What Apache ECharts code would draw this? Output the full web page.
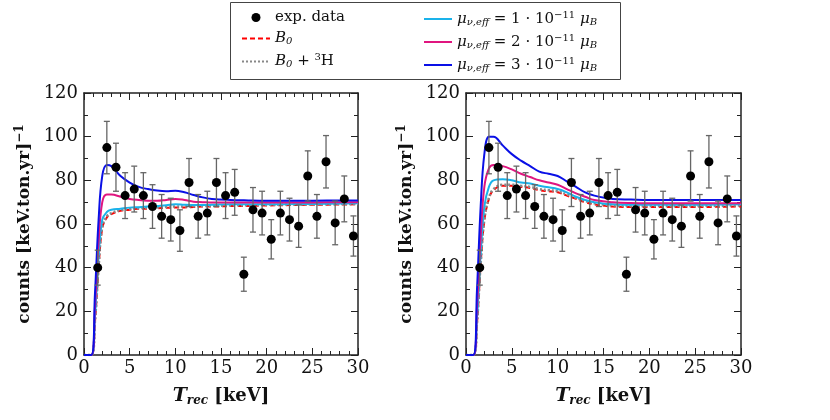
<!DOCTYPE html>
<html>
<head>
<meta charset="utf-8">
<script src="https://cdn.jsdelivr.net/npm/echarts@6/dist/echarts.min.js"></script>
<style>
  body, html { margin: 0; height: 100%; background: #fff; }
  #main { width: 830px; height: 420px; }
</style>
</head>
<body>
<div id="main"></div>
<script>
// measured points (bin centres) with error bars
var binX = [1.5,2.5,3.5,4.5,5.5,6.5,7.5,8.5,9.5,10.5,11.5,12.5,13.5,14.5,15.5,16.5,17.5,18.5,19.5,20.5,21.5,22.5,23.5,24.5,25.5,26.5,27.5,28.5,29.5];
var counts = [40,95,86,73,76,73,68,63.5,62,57,79,63.5,65,79,73,74.5,37,66.5,65,53,65,62,59,82,63.5,88.5,60.5,71.5,54.5];
var errs = [8,12,11,10.5,10.5,10.5,10,10,9.8,9.5,11,10,10,11,10.5,10.5,7.8,10.2,10,9,10,9.8,9.7,11.5,10,12,10,10.5,9.2];

// model curves, sampled at curveX
var curveX = [0,0.8,1.2,1.6,2,2.5,3,4,5,6,7,8,9,10,11,12,13,14,16,18,20,25,30];
var leftB0   = [0,0,15,40,58,63,64.5,66,66.5,67,67,67.2,67.4,67.6,67.6,67.8,68,68,68.2,68.3,68.5,68.8,69];
var leftB0H  = [0,0,15.5,40.5,58.5,63.5,65,66.4,66.9,67.3,67.4,67.6,67.8,68,68,68.1,68.3,68.3,68.5,68.6,68.8,69,69.2];
var leftMu1  = [0,0,18,45,62,65.5,66.5,67,67.5,67.7,68,68.3,68.6,69,68.8,68.7,68.7,68.8,69,69,69,69.2,69.5];
var leftMu2  = [0,0,22,52,70,73.5,73.5,72.5,71.5,71,70.7,70.6,71,71.5,71,70.2,70,69.8,69.8,69.8,69.8,69.9,70];
var leftMu3  = [0,0,28,62,82,87,86.5,82,79,77,76,75.3,75,75.2,74.5,73.3,72.2,71.5,71,70.8,70.7,70.7,70.8];
var rightB0  = [0,0,14.5,41.5,61.5,71.5,75.5,77.5,77.5,77,76.5,75.5,75,74.5,73,71.5,70,69,68,67.8,67.8,67.8,68];
var rightB0H = [0,0,15,42,62,72,76,78,78,77.5,77,76,75.5,75,73.5,72,70.5,69.5,68.5,68.3,68.3,68.3,68.5];
var rightMu1 = [0,0,17,46,68,77,80,80.5,80,79,78.5,77.5,76.8,76,74.5,72.5,71,70,69,68.8,68.8,68.8,69];
var rightMu2 = [0,0,22,54,77,85.5,87,86.5,85,83,81.5,80,79,78,76,74,72.5,71,70,69.6,69.5,69.5,69.5];
var rightMu3 = [0,0,30,68,92,100,100,96,92,89,86.5,84,83,82,79.5,77,74.5,73,71.5,71.2,71,71,71];

var xTicks = [0,5,10,15,20,25,30];
var yTicks = [0,20,40,60,80,100,120];

var FONT = '"DejaVu Serif", "Liberation Serif", serif';
var colors = {B0: '#ff0000', B0H: '#888888', mu1: '#1ab2ea', mu2: '#e0157f', mu3: '#0a10e6'};

function pairs(ys) { return curveX.map(function (x, i) { return [x, ys[i]]; }); }

function lineSeries(name, ys, gi) {
  var ls = {color: colors[name], width: 2};
  if (name == 'B0') ls.type = [5, 3];
  if (name == 'B0H') { ls.type = [2, 2]; ls.width = 2.5; }
  return {
    name: name, type: 'line', xAxisIndex: gi * 2, yAxisIndex: gi * 2,
    data: pairs(ys), smooth: 0.4, showSymbol: false, symbol: 'none',
    lineStyle: ls, itemStyle: {color: colors[name]}, z: 3
  };
}

function pointSeries(gi) {
  var pts = binX.map(function (x, i) { return [x, counts[i], errs[i]]; });
  return [{
    type: 'custom', xAxisIndex: gi * 2, yAxisIndex: gi * 2, z: 4,
    data: pts,
    renderItem: function (params, api) {
      var x = api.value(0), y = api.value(1), e = api.value(2);
      var hi = api.coord([x, y + e]), lo = api.coord([x, y - e]);
      var st = {stroke: '#666', lineWidth: 1.3};
      return {type: 'group', children: [
        {type: 'line', shape: {x1: hi[0], y1: hi[1], x2: lo[0], y2: lo[1]}, style: st},
        {type: 'line', shape: {x1: hi[0] - 3, y1: hi[1], x2: hi[0] + 3, y2: hi[1]}, style: st},
        {type: 'line', shape: {x1: lo[0] - 3, y1: lo[1], x2: lo[0] + 3, y2: lo[1]}, style: st}
      ]};
    }
  }, {
    name: 'exp. data', type: 'scatter', xAxisIndex: gi * 2, yAxisIndex: gi * 2, z: 5,
    data: pts.map(function (p) { return [p[0], p[1]]; }),
    symbolSize: 9, itemStyle: {color: '#000', opacity: 1}
  }];
}

var tickCommon = {inside: true, length: 7, lineStyle: {color: '#222'}};
var minorCommon = {show: true, length: 4, lineStyle: {color: '#222'}};
var lineCommon = {show: true, onZero: false, lineStyle: {color: '#222', width: 1.5}};

function xAxes(gi) {
  return [{
    type: 'value', gridIndex: gi, min: 0, max: 30, interval: 5,
    axisLine: lineCommon,
    axisTick: tickCommon, minorTick: Object.assign({splitNumber: 5}, minorCommon),
    splitLine: {show: false},
    axisLabel: {fontFamily: FONT, fontSize: 18, color: '#111', margin: 4,
      formatter: function (v) { return xTicks.indexOf(v) >= 0 ? v : ''; }},
    name: '{b|T}{s|rec}{n| [keV]}', nameLocation: 'middle', nameGap: 30,
    nameTextStyle: {rich: {
      b: {fontFamily: FONT, fontSize: 19, fontWeight: 'bold', fontStyle: 'italic', color: '#111'},
      s: {fontFamily: FONT, fontSize: 12, fontWeight: 'bold', fontStyle: 'italic', color: '#111', padding: [10, 0, 0, 0]},
      n: {fontFamily: FONT, fontSize: 18, fontWeight: 'bold', color: '#111'}
    }}
  }, {
    type: 'value', gridIndex: gi, min: 0, max: 30, interval: 5, position: 'top',
    axisLine: lineCommon, axisLabel: {show: false},
    axisTick: tickCommon, minorTick: Object.assign({splitNumber: 5}, minorCommon),
    splitLine: {show: false}
  }];
}

function yAxes(gi) {
  return [{
    type: 'value', gridIndex: gi, min: 0, max: 120, interval: 20, position: 'left',
    axisLine: lineCommon,
    axisTick: tickCommon, minorTick: Object.assign({splitNumber: 2}, minorCommon),
    splitLine: {show: false},
    axisLabel: {fontFamily: FONT, fontSize: 18, color: '#111', margin: 6,
      formatter: function (v) { return yTicks.indexOf(v) >= 0 ? v : ''; }},
    name: '{n|counts [keV.ton.yr]}{s|−1}', nameLocation: 'middle', nameGap: 48,
    nameTextStyle: {rich: {
      n: {fontFamily: FONT, fontSize: 17, fontWeight: 'bold', color: '#111'},
      s: {fontFamily: FONT, fontSize: 12, fontWeight: 'bold', color: '#111', padding: [0, 0, 10, 0]}
    }}
  }, {
    type: 'value', gridIndex: gi, min: 0, max: 120, interval: 20, position: 'right',
    axisLine: lineCommon, axisLabel: {show: false},
    axisTick: tickCommon, minorTick: Object.assign({splitNumber: 2}, minorCommon),
    splitLine: {show: false}
  }];
}

var legendLabels = {
  'exp. data': '{t|exp. data}',
  'B0': '{i|B}{s|0}',
  'B0H': '{i|B}{s|0}{t| + }{s2|3}{t|H}',
  'mu1': '{i|μ}{s|ν,eff}{t| = 1 · 10}{s2|−11}{t| }{i|μ}{s|B}',
  'mu2': '{i|μ}{s|ν,eff}{t| = 2 · 10}{s2|−11}{t| }{i|μ}{s|B}',
  'mu3': '{i|μ}{s|ν,eff}{t| = 3 · 10}{s2|−11}{t| }{i|μ}{s|B}'
};
var legendRich = {
  t: {fontFamily: FONT, fontSize: 15, color: '#111'},
  i: {fontFamily: FONT, fontSize: 15, fontStyle: 'italic', color: '#111'},
  s: {fontFamily: FONT, fontSize: 10, fontStyle: 'italic', color: '#111', padding: [6, 0, 0, 0]},
  s2: {fontFamily: FONT, fontSize: 10, color: '#111', padding: [0, 0, 8, 0]}
};

function legendBlock(items, left) {
  return {
    data: items.map(function (n) {
      return n == 'exp. data' ? {name: n, icon: 'circle', itemStyle: {color: '#000'}}
        : {name: n, itemStyle: {color: 'transparent', borderWidth: 0}};
    }),
    orient: 'vertical', left: left, top: 5,
    itemWidth: 28, itemHeight: 9, itemGap: 6,
    formatter: function (n) { return legendLabels[n]; },
    textStyle: {rich: legendRich}
  };
}

var chart = echarts.init(document.getElementById('main'));
var series = [];
[0, 1].forEach(function (gi) {
  series = series.concat(pointSeries(gi));
});
series.push(lineSeries('B0', leftB0, 0), lineSeries('B0H', leftB0H, 0),
  lineSeries('mu1', leftMu1, 0), lineSeries('mu2', leftMu2, 0), lineSeries('mu3', leftMu3, 0));
series.push(lineSeries('B0', rightB0, 1), lineSeries('B0H', rightB0H, 1),
  lineSeries('mu1', rightMu1, 1), lineSeries('mu2', rightMu2, 1), lineSeries('mu3', rightMu3, 1));

chart.setOption({
  animation: false,
  graphic: [{type: 'rect', left: 228, top: 0, shape: {width: 390, height: 77},
    style: {fill: 'none', stroke: '#444', lineWidth: 1}}],
  legend: [legendBlock(['exp. data', 'B0', 'B0H'], 236), legendBlock(['mu1', 'mu2', 'mu3'], 418)],
  grid: [
    {left: 84, top: 93, width: 274, height: 262},
    {left: 466, top: 93, width: 275, height: 262}
  ],
  xAxis: xAxes(0).concat(xAxes(1)),
  yAxis: yAxes(0).concat(yAxes(1)),
  series: series
});
</script>
</body>
</html>
